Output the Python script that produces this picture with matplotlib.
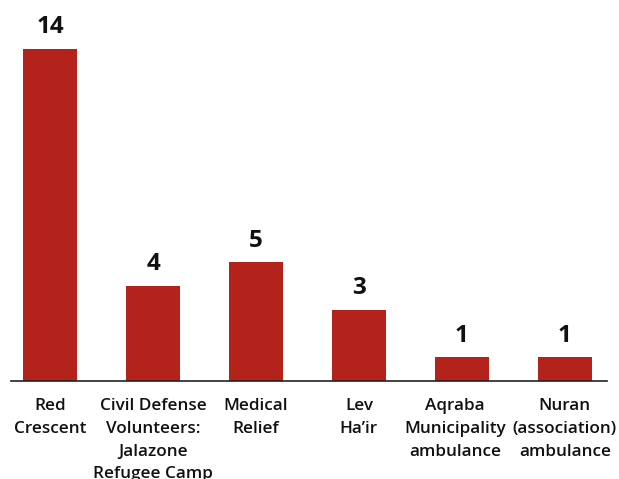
import matplotlib
matplotlib.use("Agg")
import matplotlib.pyplot as plt
from matplotlib.transforms import ScaledTranslation

categories = ["Red\nCrescent", "Civil Defense\nVolunteers:\nJalazone\nRefugee Camp",
              "Medical\nRelief", "Lev\nHa\u2019ir", "Aqraba\nMunicipality\nambulance",
              "Nuran\n(association)\nambulance"]
values = [14, 4, 5, 3, 1, 1]

plt.rcParams['font.family'] = ['Open Sans', 'DejaVu Sans']

fig = plt.figure(figsize=(6.19, 4.79), dpi=100)
ax = fig.add_axes([11/619, 1-381/479, (607-11)/619, 381/479])
x = range(len(values))
bars = ax.bar(x, values, width=0.52, color="#B3231B", zorder=2)
ax.set_xlim(-0.38, 5.41)
ax.set_ylim(0, 16.05)
for xi, v in zip(x, values):
    ax.annotate(str(v), (xi, v), xytext=(0, 7), textcoords="offset points",
                ha="center", va="bottom", fontsize=17.5, fontweight="bold", color="#111111")
for s in ["top", "right", "left"]:
    ax.spines[s].set_visible(False)
ax.spines["bottom"].set_color("#222222")
ax.spines["bottom"].set_linewidth(1.2)
ax.set_yticks([])
ax.set_xticks(list(x))
labels = ax.set_xticklabels(categories, fontsize=12.3, fontweight="semibold", color="#111111",
                            linespacing=1.56, va="top")
ax.tick_params(axis="x", length=0, pad=12.4)
# nudge the crowded label left a little, as in the reference
labels[4].set_transform(labels[4].get_transform() + ScaledTranslation(-7/100, 0, fig.dpi_scale_trans))
fig.savefig("out.png", dpi=100)
